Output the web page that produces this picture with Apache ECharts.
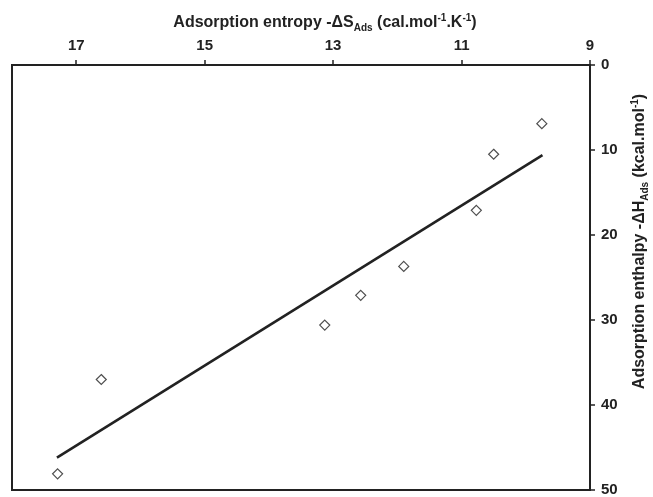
<!DOCTYPE html>
<html>
<head>
<meta charset="utf-8">
<script src="https://cdn.jsdelivr.net/npm/echarts@6/dist/echarts.min.js"></script>
<style>html,body{margin:0;padding:0;background:#fff;}#c{width:653px;height:497px;}</style>
</head>
<body>
<div id="c"></div>
<script>
// Adsorption entropy -ΔS (x) and enthalpy -ΔH (y)
var entropyValues = [17.29, 16.61, 13.13, 12.57, 11.90, 10.77, 10.50, 9.75];
var enthalpyValues = [48.1, 37.0, 30.6, 27.1, 23.7, 17.1, 10.5, 6.9];
// fitted trend line end points
var fitEntropy = [17.30, 9.74];
var fitEnthalpy = [46.2, 10.6];
var xTicks = [9, 11, 13, 15, 17];
var yTicks = [0, 10, 20, 30, 40, 50];

var pts = entropyValues.map(function (v, i) { return [v, enthalpyValues[i]]; });
var fit = fitEntropy.map(function (v, i) { return [v, fitEnthalpy[i]]; });

var font = '"Liberation Sans", Arial, sans-serif';
var richStyles = {
  sub: { fontFamily: font, fontWeight: 'bold', fontSize: 10, color: '#222', verticalAlign: 'bottom', lineHeight: 12 },
  sup: { fontFamily: font, fontWeight: 'bold', fontSize: 10, color: '#222', verticalAlign: 'top', lineHeight: 12 }
};
var chart = echarts.init(document.getElementById('c'));
chart.setOption({
  animation: false,
  backgroundColor: '#fff',
  grid: { left: 12, right: 63, top: 65, bottom: 7, show: true, borderColor: '#222', borderWidth: 2,
          containLabel: false, outerBoundsMode: 'none' },
  xAxis: {
    type: 'value', position: 'top', inverse: true, min: 9, max: 18,
    splitLine: { show: false },
    axisLine: { show: true, lineStyle: { color: '#222', width: 2 } },
    axisTick: { show: true, customValues: xTicks, length: 5, lineStyle: { color: '#222', width: 1.5 } },
    axisLabel: { customValues: xTicks, fontFamily: font, fontWeight: 'bold', fontSize: 15, color: '#222', margin: 12 },
    name: 'Adsorption entropy -ΔS{sub|Ads} (cal.mol{sup|-1}.K{sup|-1})',
    nameLocation: 'middle', nameGap: 32,
    nameTextStyle: {
      fontFamily: font, fontWeight: 'bold', fontSize: 16, color: '#222', lineHeight: 20,
      padding: [0, 0, 0, 48],
      rich: richStyles
    }
  },
  yAxis: {
    type: 'value', position: 'right', inverse: true, min: 0, max: 50, interval: 10,
    splitLine: { show: false },
    axisLine: { show: true, lineStyle: { color: '#222', width: 2 } },
    axisTick: { show: true, length: 5, lineStyle: { color: '#222', width: 1.5 } },
    axisLabel: { fontFamily: font, fontWeight: 'bold', fontSize: 15, color: '#222', margin: 11 },
    name: 'Adsorption enthalpy -ΔH{sub|Ads} (kcal.mol{sup|-1})',
    nameLocation: 'middle', nameGap: 40, nameRotate: 90,
    nameTextStyle: {
      fontFamily: font, fontWeight: 'bold', fontSize: 16, color: '#222', lineHeight: 20,
      padding: [0, 0, 0, 72],
      rich: richStyles
    }
  },
  series: [
    {
      type: 'line', data: fit, showSymbol: false, symbol: 'none',
      lineStyle: { color: '#222', width: 2.6 }, z: 2
    },
    {
      type: 'scatter', data: pts, symbol: 'diamond', symbolSize: 10,
      itemStyle: { color: '#fff', borderColor: '#222', borderWidth: 1.2 }, z: 3
    }
  ]
});
</script>
</body>
</html>
